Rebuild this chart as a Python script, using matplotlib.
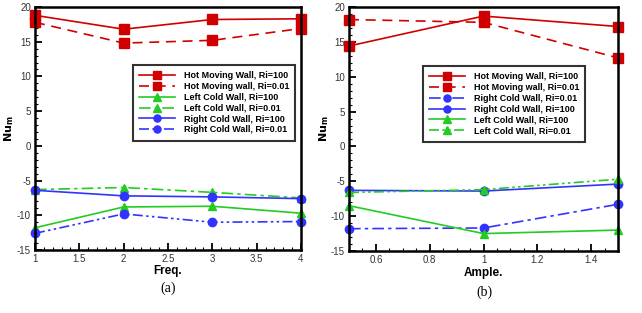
import matplotlib
matplotlib.use("Agg")
import matplotlib.pyplot as plt
from matplotlib.ticker import MultipleLocator, FuncFormatter

# ---- data ----
freq = [1, 2, 3, 4]
a_hot_ri100 = [18.8, 16.8, 18.2, 18.3]
a_hot_ri001 = [17.8, 14.8, 15.2, 16.9]
a_left_ri100 = [-11.8, -8.8, -8.7, -9.7]
a_left_ri001 = [-6.3, -6.0, -6.7, -7.5]
a_right_ri100 = [-6.4, -7.2, -7.35, -7.6]
a_right_ri001 = [-12.6, -9.8, -11.0, -10.9]

ample = [0.5, 1.0, 1.5]
b_hot_ri100 = [14.4, 18.7, 17.2]
b_hot_ri001 = [18.2, 17.8, 12.7]
b_right_ri001 = [-11.8, -11.7, -8.3]
b_right_ri100 = [-6.3, -6.4, -5.4]
b_left_ri100 = [-8.5, -12.5, -12.0]
b_left_ri001 = [-6.6, -6.2, -4.7]

RED = "#d00000"
GREEN = "#22cc22"
BLUE = "#3333ff"
DASHDOTDOT = (0, (6, 2, 1.5, 2, 1.5, 2))
DASHDOT = (0, (7, 2.5, 2, 2.5))

plt.rcParams["font.family"] = ["Liberation Sans", "DejaVu Sans"]

fig = plt.figure(figsize=(6.42, 3.13), dpi=100)
ax1 = fig.add_axes([35/642, 1-250/313, 266/642, 243/313])
ax2 = fig.add_axes([349/642, 1-251/313, 269/642, 244/313])

fmt = FuncFormatter(lambda v, p: "%g" % round(v, 6))

def style(ax, xlim, xmaj, xmin):
    ax.set_xlim(*xlim)
    ax.set_ylim(-15, 20)
    ax.xaxis.set_major_locator(MultipleLocator(xmaj))
    ax.xaxis.set_minor_locator(MultipleLocator(xmin))
    ax.yaxis.set_major_locator(MultipleLocator(5))
    ax.yaxis.set_minor_locator(MultipleLocator(1))
    ax.xaxis.set_major_formatter(fmt)
    ax.yaxis.set_major_formatter(fmt)
    ax.tick_params(which="both", direction="in", top=False, right=False,
                   labelsize=7, colors="black", labelcolor="#333333", pad=3)
    ax.tick_params(which="major", length=5, width=1.3)
    ax.tick_params(which="minor", length=2.5, width=0.8)
    for s in ax.spines.values():
        s.set_linewidth(1.8)
    ax.set_ylabel(r"$\mathbf{Nu_m}$", fontsize=8, va="center")
    ax.xaxis.set_label_coords(0.5, -0.085)

ms_s = 7
ms = 6
lw = 1.2

ax1.plot(freq, a_hot_ri100, color=RED, ls="-", marker="s", ms=ms_s, lw=lw, label="Hot Moving Wall, Ri=100")
ax1.plot(freq, a_hot_ri001, color=RED, ls=(0, (6, 4)), marker="s", ms=ms_s, lw=lw, label="Hot Moving wall, Ri=0.01")
ax1.plot(freq, a_left_ri100, color=GREEN, ls="-", marker="^", ms=ms, lw=lw, label="Left Cold Wall, Ri=100")
ax1.plot(freq, a_left_ri001, color=GREEN, ls=DASHDOT, marker="^", ms=ms, lw=lw, label="Left Cold Wall, Ri=0.01")
ax1.plot(freq, a_right_ri100, color=BLUE, ls="-", marker="o", ms=ms, lw=lw, label="Right Cold Wall, Ri=100")
ax1.plot(freq, a_right_ri001, color=BLUE, ls=DASHDOTDOT, marker="o", ms=ms, lw=lw, label="Right Cold Wall, Ri=0.01")
for l in ax1.lines:
    l.set_clip_on(False)
style(ax1, (1, 4), 0.5, 0.1)
ax1.set_xlabel("Freq.", fontsize=8.5, fontweight="bold", va="center")
ax1.yaxis.set_label_coords(-0.097, 0.5)

ax2.plot(ample, b_hot_ri100, color=RED, ls="-", marker="s", ms=ms_s, lw=lw, label="Hot Moving Wall, Ri=100")
ax2.plot(ample, b_hot_ri001, color=RED, ls=(0, (6, 4)), marker="s", ms=ms_s, lw=lw, label="Hot Moving wall, Ri=0.01")
ax2.plot(ample, b_right_ri001, color=BLUE, ls=DASHDOT, marker="o", ms=ms, lw=lw, label="Right Cold Wall, Ri=0.01")
ax2.plot(ample, b_right_ri100, color=BLUE, ls="-", marker="o", ms=ms, lw=lw, label="Right Cold Wall, Ri=100")
ax2.plot(ample, b_left_ri100, color=GREEN, ls="-", marker="^", ms=ms, lw=lw, label="Left Cold Wall, Ri=100")
ax2.plot(ample, b_left_ri001, color=GREEN, ls=DASHDOTDOT, marker="^", ms=ms, lw=lw, label="Left Cold Wall, Ri=0.01")
for l in ax2.lines:
    l.set_clip_on(False)
style(ax2, (0.5, 1.5), 0.2, 0.05)
ax2.set_xlabel("Ample.", fontsize=8.5, fontweight="bold", va="center")
ax2.xaxis.set_label_coords(0.5, -0.09)
ax2.yaxis.set_label_coords(-0.092, 0.5)

legkw = dict(prop={"size": 6.5, "weight": "bold"}, frameon=True, fancybox=False,
             edgecolor="black", handlelength=4.0, handletextpad=0.9,
             labelspacing=0.2, borderpad=0.7, borderaxespad=0, markerscale=0.85)
leg1 = ax1.legend(loc="upper left", bbox_to_anchor=(133/642, 1-65/313),
                  bbox_transform=fig.transFigure, **legkw)
leg2 = ax2.legend(loc="upper left", bbox_to_anchor=(423/642, 1-66/313),
                  bbox_transform=fig.transFigure, **legkw)
for leg in (leg1, leg2):
    leg.get_frame().set_linewidth(1.5)

fig.text(168/642, 1-288/313, "(a)", fontsize=10, family="Liberation Serif", ha="center", va="center")
fig.text(484/642, 1-292/313, "(b)", fontsize=10, family="Liberation Serif", ha="center", va="center")

fig.savefig("out.png", dpi=100)
